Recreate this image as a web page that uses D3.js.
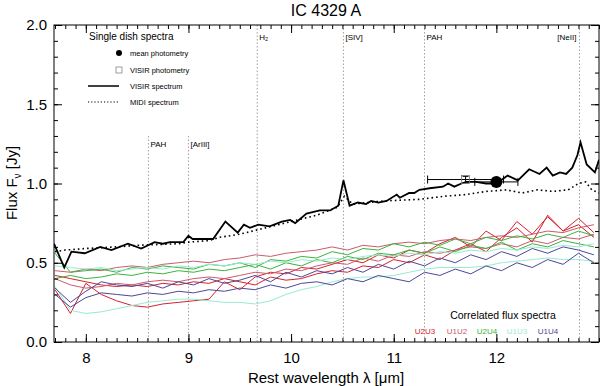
<!DOCTYPE html>
<html>
<head>
<meta charset="utf-8">
<script src="https://cdn.jsdelivr.net/npm/d3@7"></script>
<style>
  body { margin: 0; background: #fff; }
  svg text { font-family: "Liberation Sans", Arial, Helvetica, sans-serif; }
  .axis path, .axis line { stroke: #000; }
  .axis .domain { display: none; }
</style>
</head>
<body>
<div class="chart"></div>
<script>
// VISIR spectrum (solid black) [wavelength, flux]
const visirSpectrum = [
  [7.69, 0.62], [7.79, 0.47], [7.86, 0.57], [7.99, 0.56], [8.14, 0.60], [8.25, 0.58],
  [8.41, 0.62], [8.54, 0.59], [8.67, 0.63], [8.75, 0.62], [8.82, 0.63], [8.95, 0.63],
  [9.00, 0.67], [9.04, 0.65], [9.14, 0.65], [9.24, 0.65], [9.36, 0.76], [9.48, 0.69],
  [9.54, 0.74], [9.60, 0.72], [9.68, 0.74], [9.79, 0.73], [9.91, 0.76], [9.99, 0.77],
  [10.04, 0.75], [10.15, 0.81], [10.28, 0.83], [10.38, 0.83], [10.46, 0.86], [10.51, 1.02],
  [10.57, 0.86], [10.65, 0.88], [10.73, 0.87], [10.78, 0.89], [10.85, 0.88], [10.93, 0.89],
  [11.03, 0.93], [11.06, 0.91], [11.15, 0.94], [11.20, 0.94], [11.25, 0.96], [11.35, 0.97],
  [11.48, 0.98], [11.53, 1.00], [11.59, 0.98], [11.66, 1.00], [11.71, 1.01], [11.80, 1.01],
  [11.90, 1.00], [12.00, 1.00], [12.11, 1.05], [12.21, 1.02], [12.32, 1.09], [12.42, 1.06],
  [12.49, 1.10], [12.55, 1.05], [12.62, 1.07], [12.68, 1.06], [12.74, 1.10], [12.79, 1.18],
  [12.82, 1.26], [12.88, 1.12], [12.96, 1.07], [13.00, 1.15]
];

// MIDI total spectrum (dotted black)
const midiSpectrum = [
  [7.70, 0.57], [7.80, 0.58], [8.00, 0.59], [8.30, 0.60], [8.50, 0.61], [8.90, 0.62],
  [9.00, 0.63], [9.20, 0.64], [9.30, 0.66], [9.50, 0.68], [9.75, 0.72], [10.00, 0.76],
  [10.25, 0.80], [10.45, 0.85], [10.52, 0.92], [10.60, 0.87], [10.90, 0.89], [11.25, 0.90],
  [11.50, 0.92], [11.70, 0.93], [11.90, 0.95], [12.10, 0.96], [12.25, 0.94], [12.40, 0.96],
  [12.55, 0.95], [12.70, 0.96], [12.80, 1.00], [12.87, 1.01], [12.93, 0.96], [13.00, 0.94]
];

// photometry points [wavelength, flux, half-width in wavelength, flux error]
const meanPhot = [12.0, 1.01, 0.21, 0.0];
const visirPhot = [11.70, 1.025, 0.37, 0.02];

// wavelength grid of the correlated flux spectra
const corrWave = [7.70, 7.85, 8.00, 8.15, 8.30, 8.45, 8.60, 8.75, 8.90, 9.05, 9.20, 9.35,
  9.50, 9.65, 9.80, 9.95, 10.10, 10.25, 10.40, 10.55, 10.70, 10.85, 11.00, 11.15,
  11.30, 11.45, 11.60, 11.75, 11.90, 12.05, 12.20, 12.35, 12.50, 12.65, 12.80, 12.95];

const u2u3a = [0.33, 0.18, 0.37, 0.30, 0.26, 0.23, 0.22, 0.24, 0.25, 0.26, 0.27, 0.38, 0.33, 0.41, 0.44, 0.43, 0.47, 0.46,
  0.49, 0.52, 0.50, 0.55, 0.53, 0.58, 0.56, 0.62, 0.66, 0.60, 0.70, 0.64, 0.76, 0.68, 0.79, 0.70, 0.74, 0.66];
const u2u3b = [0.42, 0.40, 0.38, 0.36, 0.35, 0.36, 0.35, 0.37, 0.36, 0.38, 0.37, 0.40, 0.38, 0.36, 0.41, 0.39, 0.40, 0.43,
  0.45, 0.44, 0.48, 0.47, 0.52, 0.50, 0.55, 0.52, 0.58, 0.62, 0.57, 0.66, 0.72, 0.63, 0.80, 0.70, 0.78, 0.69];
const u1u2a = [0.45, 0.44, 0.46, 0.45, 0.47, 0.48, 0.47, 0.49, 0.50, 0.51, 0.50, 0.52, 0.53, 0.55, 0.54, 0.56, 0.57, 0.58,
  0.60, 0.58, 0.61, 0.60, 0.62, 0.63, 0.62, 0.64, 0.65, 0.64, 0.66, 0.67, 0.66, 0.68, 0.70, 0.69, 0.72, 0.74];
const u1u2b = [0.40, 0.36, 0.34, 0.35, 0.37, 0.36, 0.38, 0.39, 0.38, 0.40, 0.41, 0.40, 0.42, 0.44, 0.43, 0.46, 0.45, 0.48,
  0.50, 0.49, 0.53, 0.51, 0.55, 0.54, 0.57, 0.56, 0.58, 0.60, 0.59, 0.62, 0.60, 0.64, 0.62, 0.66, 0.65, 0.68];
const u2u4a = [0.56, 0.44, 0.45, 0.46, 0.44, 0.47, 0.46, 0.48, 0.47, 0.46, 0.49, 0.48, 0.50, 0.47, 0.52, 0.51, 0.54, 0.53,
  0.57, 0.55, 0.59, 0.58, 0.62, 0.60, 0.63, 0.61, 0.65, 0.62, 0.66, 0.64, 0.67, 0.65, 0.68, 0.66, 0.70, 0.67];
const u2u4b = [0.40, 0.42, 0.40, 0.41, 0.43, 0.42, 0.44, 0.43, 0.45, 0.44, 0.46, 0.45, 0.47, 0.49, 0.46, 0.50, 0.48, 0.52,
  0.50, 0.54, 0.52, 0.56, 0.55, 0.58, 0.56, 0.60, 0.57, 0.61, 0.59, 0.63, 0.58, 0.62, 0.60, 0.64, 0.62, 0.60];
const u1u3a = [0.35, 0.20, 0.18, 0.19, 0.21, 0.23, 0.25, 0.26, 0.27, 0.27, 0.26, 0.25, 0.25, 0.24, 0.26, 0.30, 0.33, 0.35,
  0.38, 0.40, 0.41, 0.41, 0.42, 0.44, 0.46, 0.47, 0.47, 0.47, 0.48, 0.50, 0.51, 0.52, 0.53, 0.52, 0.52, 0.51];
const u1u3b = [0.48, 0.47, 0.46, 0.47, 0.45, 0.46, 0.47, 0.46, 0.48, 0.47, 0.49, 0.48, 0.50, 0.49, 0.51, 0.50, 0.52, 0.51,
  0.53, 0.52, 0.54, 0.55, 0.54, 0.56, 0.55, 0.57, 0.56, 0.58, 0.57, 0.59, 0.58, 0.60, 0.59, 0.61, 0.60, 0.62];
const u1u4a = [0.34, 0.25, 0.32, 0.38, 0.36, 0.35, 0.37, 0.34, 0.38, 0.36, 0.40, 0.37, 0.39, 0.42, 0.38, 0.44, 0.41, 0.45,
  0.43, 0.47, 0.44, 0.49, 0.46, 0.51, 0.48, 0.53, 0.50, 0.55, 0.52, 0.57, 0.54, 0.59, 0.56, 0.60, 0.58, 0.55];
const u1u4b = [0.30, 0.22, 0.28, 0.31, 0.30, 0.29, 0.31, 0.30, 0.32, 0.31, 0.33, 0.32, 0.34, 0.33, 0.36, 0.34, 0.37, 0.38,
  0.36, 0.40, 0.38, 0.42, 0.40, 0.38, 0.44, 0.42, 0.46, 0.43, 0.48, 0.45, 0.50, 0.47, 0.52, 0.49, 0.56, 0.50];

const baselines = ['U2U3', 'U1U2', 'U2U4', 'U1U3', 'U1U4'];
const baselineColors = ['#d8202c', '#cc5a6e', '#3cb43c', '#96ecd2', '#4c4896'];
const corrSeries = [
  { base: 'U2U3', values: u2u3a }, { base: 'U2U3', values: u2u3b },
  { base: 'U1U2', values: u1u2a }, { base: 'U1U2', values: u1u2b },
  { base: 'U2U4', values: u2u4a }, { base: 'U2U4', values: u2u4b },
  { base: 'U1U3', values: u1u3a }, { base: 'U1U3', values: u1u3b },
  { base: 'U1U4', values: u1u4a }, { base: 'U1U4', values: u1u4b }
];

// emission features [wavelength, label, starts low?]
const features = [
  [8.61, 'PAH', true], [9.00, '[ArIII]', true], [9.67, 'H\u2082', false],
  [10.51, '[SIV]', false], [11.30, 'PAH', false], [12.81, '[NeII]', false]
];

const xTicks = [8, 9, 10, 11, 12];
const yTicks = [0.0, 0.5, 1.0, 1.5, 2.0];

const width = 600;
const height = 386;
const margin = { top: 25, right: 1, bottom: 44, left: 54 };
const chart_width = width - margin.left - margin.right;
const chart_height = height - margin.top - margin.bottom;

const svg = d3
  .select('.chart')
  .append('svg')
  .attr('width', width)
  .attr('height', height);

svg
  .append('defs')
  .append('clipPath')
  .attr('id', 'clip')
  .append('rect')
  .attr('width', chart_width)
  .attr('height', chart_height);

const x = d3.scaleLinear().domain([7.69, 13.0]).range([0, chart_width]);
const y = d3.scaleLinear().domain([0, 2.0]).range([chart_height, 0]);
const color = d3.scaleOrdinal().domain(baselines).range(baselineColors);

const focus = svg
  .append('g')
  .attr('transform', 'translate(' + margin.left + ',' + margin.top + ')');

const plot = focus.append('g').attr('clip-path', 'url(#clip)');

// feature markers
plot
  .selectAll('.feature')
  .data(features)
  .enter()
  .append('line')
  .attr('x1', d => x(d[0]))
  .attr('x2', d => x(d[0]))
  .attr('y1', d => (d[2] ? y(1.3) : 0))
  .attr('y2', chart_height)
  .attr('stroke', '#888')
  .attr('stroke-width', 0.8)
  .attr('stroke-dasharray', '1.5,2');

focus
  .selectAll('.feature-label')
  .data(features)
  .enter()
  .append('text')
  .attr('x', d => (d[1] === '[NeII]' ? x(d[0]) - 3 : x(d[0]) + 2))
  .attr('y', d => (d[2] ? y(1.3) + 11 : 15))
  .attr('text-anchor', d => (d[1] === '[NeII]' ? 'end' : 'start'))
  .style('font-size', '8px')
  .text(d => d[1]);

const line = d3
  .line()
  .x(d => x(d[0]))
  .y(d => y(d[1]));

// correlated flux spectra
plot
  .selectAll('.corr')
  .data(corrSeries)
  .enter()
  .append('path')
  .attr('class', 'corr')
  .attr('d', d => line(d.values.map((v, i) => [corrWave[i], v])))
  .attr('fill', 'none')
  .attr('stroke', d => color(d.base))
  .attr('stroke-width', 1);

plot
  .append('path')
  .datum(midiSpectrum)
  .attr('d', line)
  .attr('fill', 'none')
  .attr('stroke', '#000')
  .attr('stroke-width', 1.6)
  .attr('stroke-dasharray', '1.6,3');

plot
  .append('path')
  .datum(visirSpectrum)
  .attr('d', line)
  .attr('fill', 'none')
  .attr('stroke', '#000')
  .attr('stroke-width', 1.8);

// photometry with error bars
function errorBar(p) {
  const g = plot.append('g').attr('stroke', '#000').attr('stroke-width', 1);
  g.append('line')
    .attr('x1', x(p[0] - p[2])).attr('x2', x(p[0] + p[2]))
    .attr('y1', y(p[1])).attr('y2', y(p[1]));
  [p[0] - p[2], p[0] + p[2]].forEach(w => {
    g.append('line')
      .attr('x1', x(w)).attr('x2', x(w))
      .attr('y1', y(p[1]) - 4).attr('y2', y(p[1]) + 4);
  });
  if (p[3] > 0) {
    g.append('line')
      .attr('x1', x(p[0])).attr('x2', x(p[0]))
      .attr('y1', y(p[1] + p[3])).attr('y2', y(p[1] - p[3]));
    [p[1] - p[3], p[1] + p[3]].forEach(f => {
      g.append('line')
        .attr('x1', x(p[0]) - 3).attr('x2', x(p[0]) + 3)
        .attr('y1', y(f)).attr('y2', y(f));
    });
  }
}
errorBar(visirPhot);
errorBar(meanPhot);

plot
  .append('rect')
  .attr('x', x(visirPhot[0]) - 4)
  .attr('y', y(visirPhot[1]) - 4)
  .attr('width', 8)
  .attr('height', 8)
  .attr('fill', 'none')
  .attr('stroke', '#777')
  .attr('stroke-width', 0.8);

plot
  .append('circle')
  .attr('cx', x(meanPhot[0]))
  .attr('cy', y(meanPhot[1]))
  .attr('r', 6)
  .attr('fill', '#000');

// axes: frame and ticks pointing inward
focus
  .append('rect')
  .attr('width', chart_width)
  .attr('height', chart_height)
  .attr('fill', 'none')
  .attr('stroke', '#000')
  .attr('stroke-width', 1);

const xMinor = d3.range(77, 131).map(v => v / 10);
const yMinor = d3.range(0, 21).map(v => v / 10);

function tickAxis(axis, tr) {
  focus.append('g').attr('class', 'axis').attr('transform', tr).call(axis);
}
tickAxis(d3.axisBottom(x).tickValues(xMinor).tickSize(-4).tickFormat(''), 'translate(0,' + chart_height + ')');
tickAxis(d3.axisTop(x).tickValues(xMinor).tickSize(-4).tickFormat(''), 'translate(0,0)');
tickAxis(d3.axisLeft(y).tickValues(yMinor).tickSize(-4).tickFormat(''), 'translate(0,0)');
tickAxis(d3.axisRight(y).tickValues(yMinor).tickSize(-4).tickFormat(''), 'translate(' + chart_width + ',0)');
tickAxis(d3.axisTop(x).tickValues(xTicks).tickSize(-8).tickFormat(''), 'translate(0,0)');
tickAxis(d3.axisRight(y).tickValues(yTicks).tickSize(-8).tickFormat(''), 'translate(' + chart_width + ',0)');

const xAxis = d3.axisBottom(x).tickValues(xTicks).tickSize(-8).tickPadding(10).tickFormat(d3.format('d'));
const yAxis = d3.axisLeft(y).tickValues(yTicks).tickSize(-8).tickPadding(7).tickFormat(d3.format('.1f'));

focus
  .append('g')
  .attr('class', 'axis')
  .attr('transform', 'translate(0,' + chart_height + ')')
  .call(xAxis)
  .selectAll('text')
  .style('font-size', '15px')
  .attr('fill', '#000');

focus
  .append('g')
  .attr('class', 'axis')
  .call(yAxis)
  .selectAll('text')
  .style('font-size', '15px')
  .attr('fill', '#000');

// titles
svg
  .append('text')
  .attr('x', 326)
  .attr('y', 16)
  .attr('text-anchor', 'middle')
  .style('font-size', '16px')
  .text('IC 4329 A');

svg
  .append('text')
  .attr('x', 326)
  .attr('y', 383)
  .attr('text-anchor', 'middle')
  .style('font-size', '15px')
  .text('Rest wavelength \u03bb [\u03bcm]');

const yLabel = svg
  .append('text')
  .attr('transform', 'translate(17,183) rotate(-90)')
  .attr('text-anchor', 'middle')
  .style('font-size', '15px');
yLabel.append('tspan').text('Flux F');
yLabel.append('tspan').attr('dy', 4).style('font-size', '10px').text('\u03bd');
yLabel.append('tspan').attr('dy', -4).text(' [Jy]');

// single dish legend
const legend = svg.append('g');
legend
  .append('text')
  .attr('x', 89)
  .attr('y', 40)
  .style('font-size', '10px')
  .text('Single dish spectra');

const legendItems = ['mean photometry', 'VISIR photometry', 'VISIR spectrum', 'MIDI spectrum'];
const legendY = [53, 70, 86, 102];
legendItems.forEach((t, i) => {
  legend
    .append('text')
    .attr('x', 130)
    .attr('y', legendY[i] + 3)
    .style('font-size', '7.5px')
    .text(t);
});
legend.append('circle').attr('cx', 119).attr('cy', legendY[0]).attr('r', 3).attr('fill', '#000');
legend
  .append('rect')
  .attr('x', 116).attr('y', legendY[1] - 3).attr('width', 6).attr('height', 6)
  .attr('fill', 'none').attr('stroke', '#888').attr('stroke-width', 0.8);
legend
  .append('line')
  .attr('x1', 88).attr('x2', 119).attr('y1', legendY[2]).attr('y2', legendY[2])
  .attr('stroke', '#000').attr('stroke-width', 1.5);
legend
  .append('line')
  .attr('x1', 88).attr('x2', 119).attr('y1', legendY[3]).attr('y2', legendY[3])
  .attr('stroke', '#000').attr('stroke-width', 1.2).attr('stroke-dasharray', '1.2,2');

// correlated flux legend
svg
  .append('text')
  .attr('x', 503)
  .attr('y', 319)
  .attr('text-anchor', 'middle')
  .style('font-size', '10.5px')
  .text('Correlated flux spectra');

const baseX = [425, 457, 487, 517, 548];
svg
  .selectAll('.base-label')
  .data(baselines)
  .enter()
  .append('text')
  .attr('x', (d, i) => baseX[i])
  .attr('y', 334)
  .attr('text-anchor', 'middle')
  .style('font-size', '8px')
  .attr('fill', d => color(d))
  .text(d => d);
</script>
</body>
</html>
